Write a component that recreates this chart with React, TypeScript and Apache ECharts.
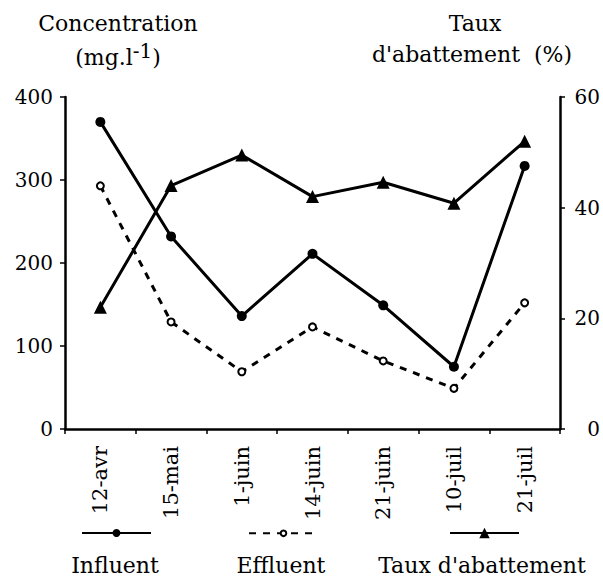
import React, { useEffect, useRef } from 'react';
import * as echarts from 'echarts';

const categories = ['12-avr', '15-mai', '1-juin', '14-juin', '21-juin', '10-juil', '21-juil'];
const influent = [370, 232, 136, 211, 149, 75, 317];
const effluent = [293, 129, 69, 123, 82, 49, 152];
const taux = [22, 44, 49.5, 42, 44.6, 40.8, 52];
const seriesNames = ['Influent', 'Effluent', "Taux d'abattement"];

const FONT = 'DejaVu Serif';

export default function App() {
  const ref = useRef<HTMLDivElement>(null);
  useEffect(() => {
    if (!ref.current) return;
    const chart = echarts.init(ref.current, null, { renderer: 'svg' });
    const legendCommon = {
      orient: 'horizontal',
      padding: 0,
      itemWidth: 69,
      itemGap: 0,
      selectedMode: false,
      formatter: () => '',
      textStyle: { fontSize: 1 },
    };
    const legendCenterY = 533;
    chart.setOption({
      animation: false,
      backgroundColor: '#fff',
      textStyle: { fontFamily: FONT, color: '#000' },
      grid: { left: 65, right: 42, top: 97, bottom: 147, containLabel: false },
      xAxis: {
        type: 'category',
        data: categories,
        boundaryGap: true,
        axisLine: { lineStyle: { color: '#000', width: 2.5 } },
        axisTick: { show: true, length: 5, lineStyle: { color: '#000', width: 1.5 } },
        axisLabel: {
          rotate: 90,
          interval: 0,
          margin: 17,
          fontFamily: FONT,
          fontSize: 21,
          color: '#000',
        },
      },
      yAxis: [
        {
          type: 'value',
          min: 0,
          max: 400,
          interval: 100,
          position: 'left',
          splitLine: { show: false },
          axisLine: { show: true, lineStyle: { color: '#000', width: 2.5 } },
          axisTick: { show: true, length: 5, lineStyle: { color: '#000', width: 1.5 } },
          axisLabel: { margin: 12, fontFamily: FONT, fontSize: 20, color: '#000' },
        },
        {
          type: 'value',
          min: 0,
          max: 60,
          interval: 20,
          position: 'right',
          splitLine: { show: false },
          axisLine: { show: true, lineStyle: { color: '#000', width: 2.5 } },
          axisTick: { show: true, length: 5, lineStyle: { color: '#000', width: 1.5 } },
          axisLabel: { margin: 40, align: 'right', fontFamily: FONT, fontSize: 20, color: '#000' },
        },
      ],
      legend: [
        { ...legendCommon, itemHeight: 10, data: [seriesNames[0]], left: 81, top: legendCenterY - 5 },
        { ...legendCommon, itemHeight: 7, data: [seriesNames[1]], left: 248, top: legendCenterY - 3.5 },
        { ...legendCommon, itemHeight: 13, data: [seriesNames[2]], left: 449, top: legendCenterY - 6.5 },
      ],
      series: [
        {
          name: seriesNames[0],
          type: 'line',
          yAxisIndex: 0,
          data: influent,
          symbol: 'circle',
          symbolSize: 10,
          itemStyle: { color: '#000' },
          lineStyle: { color: '#000', width: 3 },
        },
        {
          name: seriesNames[1],
          type: 'line',
          yAxisIndex: 0,
          data: effluent,
          symbol: 'emptyCircle',
          symbolSize: 7,
          itemStyle: { color: '#000', borderWidth: 2.5, borderColor: '#000' },
          lineStyle: { color: '#000', width: 3, type: [7, 7] },
        },
        {
          name: seriesNames[2],
          type: 'line',
          yAxisIndex: 1,
          data: taux,
          symbol: 'triangle',
          symbolSize: 13,
          itemStyle: { color: '#000' },
          lineStyle: { color: '#000', width: 3 },
        },
      ],
      graphic: [
        {
          type: 'text',
          x: 118,
          y: 23,
          style: { text: 'Concentration', font: `22px "${FONT}"`, fill: '#000', align: 'center', verticalAlign: 'middle' },
        },
        {
          type: 'text',
          x: 118,
          y: 57,
          style: {
            text: '{a|(mg.l}{s|-1}{a|)}',
            fill: '#000',
            align: 'center',
            verticalAlign: 'middle',
            rich: {
              a: { fontFamily: FONT, fontSize: 22, lineHeight: 22, verticalAlign: 'bottom', fill: '#000' },
              s: { fontFamily: FONT, fontSize: 20, lineHeight: 20, padding: [0, 0, 7, 0], verticalAlign: 'bottom', fill: '#000' },
            },
          },
        },
        {
          type: 'text',
          x: 475,
          y: 23,
          style: { text: 'Taux', font: `22px "${FONT}"`, fill: '#000', align: 'center', verticalAlign: 'middle' },
        },
        {
          type: 'text',
          x: 472,
          y: 54,
          style: { text: "d'abattement  (%)", font: `22px "${FONT}"`, fill: '#000', align: 'center', verticalAlign: 'middle' },
        },
        {
          type: 'text',
          x: 115,
          y: 565,
          style: { text: 'Influent', font: `22px "${FONT}"`, fill: '#000', align: 'center', verticalAlign: 'middle' },
        },
        {
          type: 'text',
          x: 281,
          y: 565,
          style: { text: 'Effluent', font: `22px "${FONT}"`, fill: '#000', align: 'center', verticalAlign: 'middle' },
        },
        {
          type: 'text',
          x: 482,
          y: 565,
          style: { text: "Taux d'abattement", font: `22px "${FONT}"`, fill: '#000', align: 'center', verticalAlign: 'middle' },
        },
      ],
    });
    return () => chart.dispose();
  }, []);
  return (
    <div
      ref={ref}
      style={{ position: 'fixed', left: 0, top: 0, width: 603, height: 576, background: '#fff' }}
    />
  );
}
